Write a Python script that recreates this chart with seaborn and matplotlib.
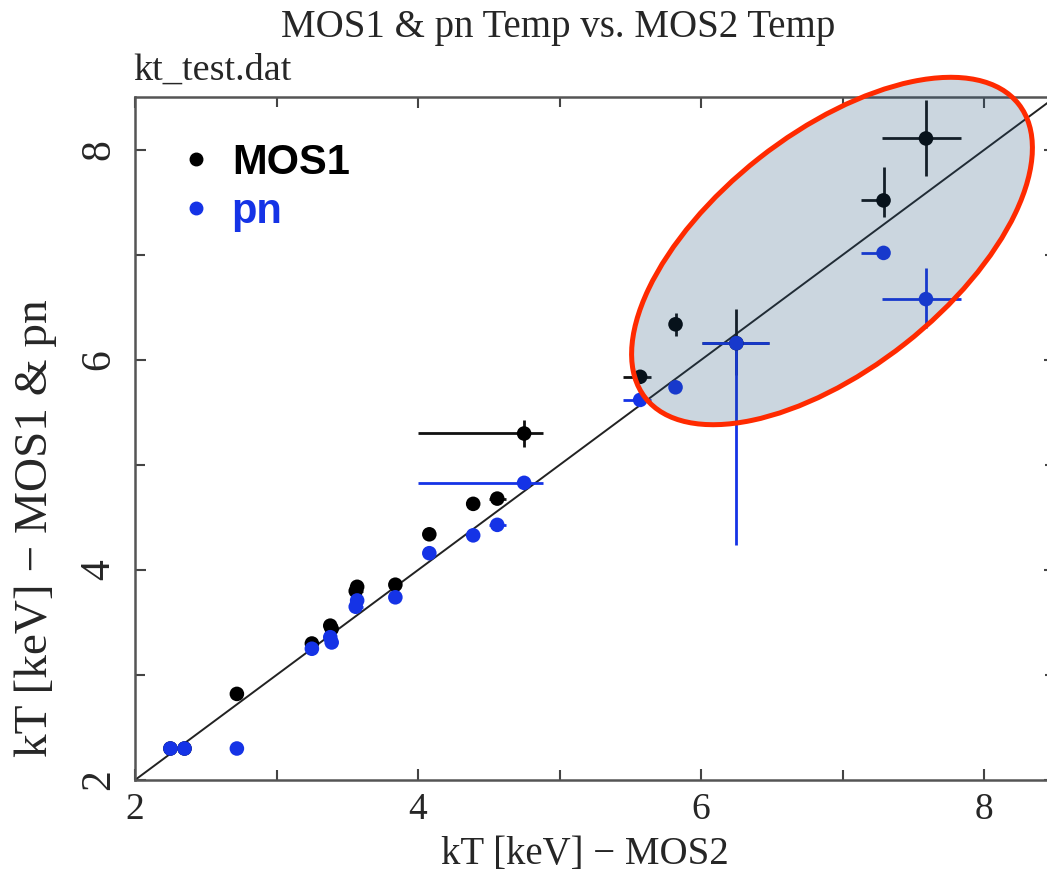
import numpy as np
import pandas as pd
import matplotlib
matplotlib.use("Agg")
import matplotlib.pyplot as plt
import seaborn as sns
from matplotlib.patches import Ellipse
from matplotlib.lines import Line2D

# ---------------- data ----------------
kt_mos2 = [2.25, 2.35, 2.72, 3.25, 3.38, 3.39, 3.57, 3.56, 3.84, 4.08, 4.39, 4.56,
           4.75, 5.57, 5.82, 6.25, 7.29, 7.59]
kt_mos1 = [2.30, 2.30, 2.82, 3.30, 3.47, 3.44, 3.84, 3.80, 3.86, 4.34, 4.63, 4.68,
           5.30, 5.84, 6.34, 6.16, 7.52, 8.11]
kt_pn = [2.30, 2.30, 2.30, 3.25, 3.36, 3.31, 3.71, 3.65, 3.74, 4.16, 4.33, 4.43,
         4.83, 5.62, 5.74, 6.16, 7.02, 6.58]
xerr_lo = [0.03, 0.03, 0.03, 0.03, 0.03, 0.03, 0.03, 0.05, 0.03, 0.03, 0.03, 0.06,
           0.75, 0.12, 0.04, 0.24, 0.16, 0.31]
xerr_hi = [0.03, 0.03, 0.03, 0.03, 0.03, 0.03, 0.03, 0.05, 0.03, 0.03, 0.03, 0.06,
           0.13, 0.08, 0.04, 0.23, 0.02, 0.25]
mos1_yerr_lo = [0.03, 0.03, 0.03, 0.03, 0.03, 0.03, 0.04, 0.03, 0.03, 0.03, 0.03, 0.03,
                0.13, 0.03, 0.11, 0.30, 0.16, 0.36]
mos1_yerr_hi = [0.03, 0.03, 0.03, 0.03, 0.03, 0.03, 0.04, 0.03, 0.03, 0.03, 0.03, 0.03,
                0.13, 0.03, 0.11, 0.33, 0.32, 0.37]
pn_yerr_lo = [0.03, 0.03, 0.03, 0.03, 0.03, 0.03, 0.05, 0.05, 0.03, 0.03, 0.03, 0.03,
              0.03, 0.03, 0.03, 1.92, 0.03, 0.28]
pn_yerr_hi = [0.03, 0.03, 0.03, 0.03, 0.03, 0.03, 0.05, 0.05, 0.03, 0.03, 0.03, 0.03,
              0.03, 0.03, 0.03, 0.05, 0.03, 0.30]

series_names = ["MOS1", "pn"]
x_ticks = [2, 4, 6, 8]
axis_range = [2, 8.5]

title = "MOS1 & pn Temp vs. MOS2 Temp"
subtitle = "kt_test.dat"
xlabel = "kT [keV] \u2212 MOS2"
ylabel = "kT [keV] \u2212 MOS1 & pn"

BLACK = "#000000"
BLUE = "#1533e6"

df = pd.DataFrame({
    "x": kt_mos2 * 2,
    "y": kt_mos1 + kt_pn,
    "series": [series_names[0]] * len(kt_mos2) + [series_names[1]] * len(kt_mos2),
})

# ---------------- figure ----------------
sns.set_style("ticks")
plt.rcParams["font.family"] = ["Liberation Serif", "DejaVu Serif"]

W, H, DPI = 1047, 872, 100
fig = plt.figure(figsize=(W / DPI, H / DPI), dpi=DPI)
ax = fig.add_axes([135 / W, 92 / H, 919.75 / W, 682.5 / H])

# identity line
ax.plot(axis_range, axis_range, color="#222222", lw=1.4, zorder=1)

# error bars
ax.errorbar(kt_mos2, kt_mos1, xerr=[xerr_lo, xerr_hi], yerr=[mos1_yerr_lo, mos1_yerr_hi],
            fmt="none", ecolor="#111111", elinewidth=2.0, capsize=0, zorder=2)
ax.errorbar(kt_mos2, kt_pn, xerr=[xerr_lo, xerr_hi], yerr=[pn_yerr_lo, pn_yerr_hi],
            fmt="none", ecolor=BLUE, elinewidth=2.0, capsize=0, zorder=3)

sns.scatterplot(data=df, x="x", y="y", hue="series", palette=[BLACK, BLUE],
                s=110, edgecolor="none", legend=False, ax=ax, zorder=4)

ax.set_xlim(axis_range)
ax.set_ylim(axis_range)
ax.set_xticks(x_ticks)
ax.set_yticks(x_ticks)
ax.set_xticks([3, 5, 7], minor=True)
ax.set_yticks([3, 5, 7], minor=True)
ax.tick_params(which="both", direction="in", top=True, right=True, width=1.5,
               color="#444444")
ax.tick_params(which="major", length=8, pad=9)
ax.tick_params(which="minor", length=7)
ax.tick_params(axis="x", which="major", labelsize=27)
ax.tick_params(axis="y", which="major", labelsize=30, labelrotation=90, pad=12)
for lab in ax.get_yticklabels():
    lab.set_va("center")
for sp in ax.spines.values():
    sp.set_color("#555555")
    sp.set_linewidth(1.8)

ax.set_xlabel(xlabel, fontsize=28)
ax.set_ylabel(ylabel, fontsize=34)
ax.xaxis.set_label_coords((585 - 135) / 919.75, -0.082)
ax.yaxis.set_label_coords((36 - 135) / 919.75, (780 - 528) / 682.5)
ax.yaxis.label.set_va("center")

fig.text(558 / W, 1 - 28 / H, title, ha="center", va="center", fontsize=28)
fig.text(133 / W, 1 - 70 / H, subtitle, ha="left", va="center", fontsize=27.5)

# legend
handles = [Line2D([], [], ls="none", marker="o", ms=9, color=BLACK),
           Line2D([], [], ls="none", marker="o", ms=9, color=BLUE)]
leg = ax.legend(handles, series_names, loc="upper left", bbox_to_anchor=(0.035, 0.958),
                frameon=False, handlelength=0.6, handletextpad=0.55, labelspacing=0.22,
                borderaxespad=0.0,
                prop={"family": "Liberation Sans", "weight": "bold", "size": 30},
                labelcolor=[BLACK, BLUE])

# highlight ellipse (overlay)
ell = Ellipse((832 / DPI, (H - 251) / DPI), width=475 / DPI, height=236 / DPI, angle=38.2,
              transform=fig.dpi_scale_trans, facecolor=(0.12, 0.31, 0.47, 0.23),
              edgecolor="#ff2a00", linewidth=3.6, clip_on=False, zorder=10)
fig.add_artist(ell)

fig.savefig("out.png", dpi=DPI)
